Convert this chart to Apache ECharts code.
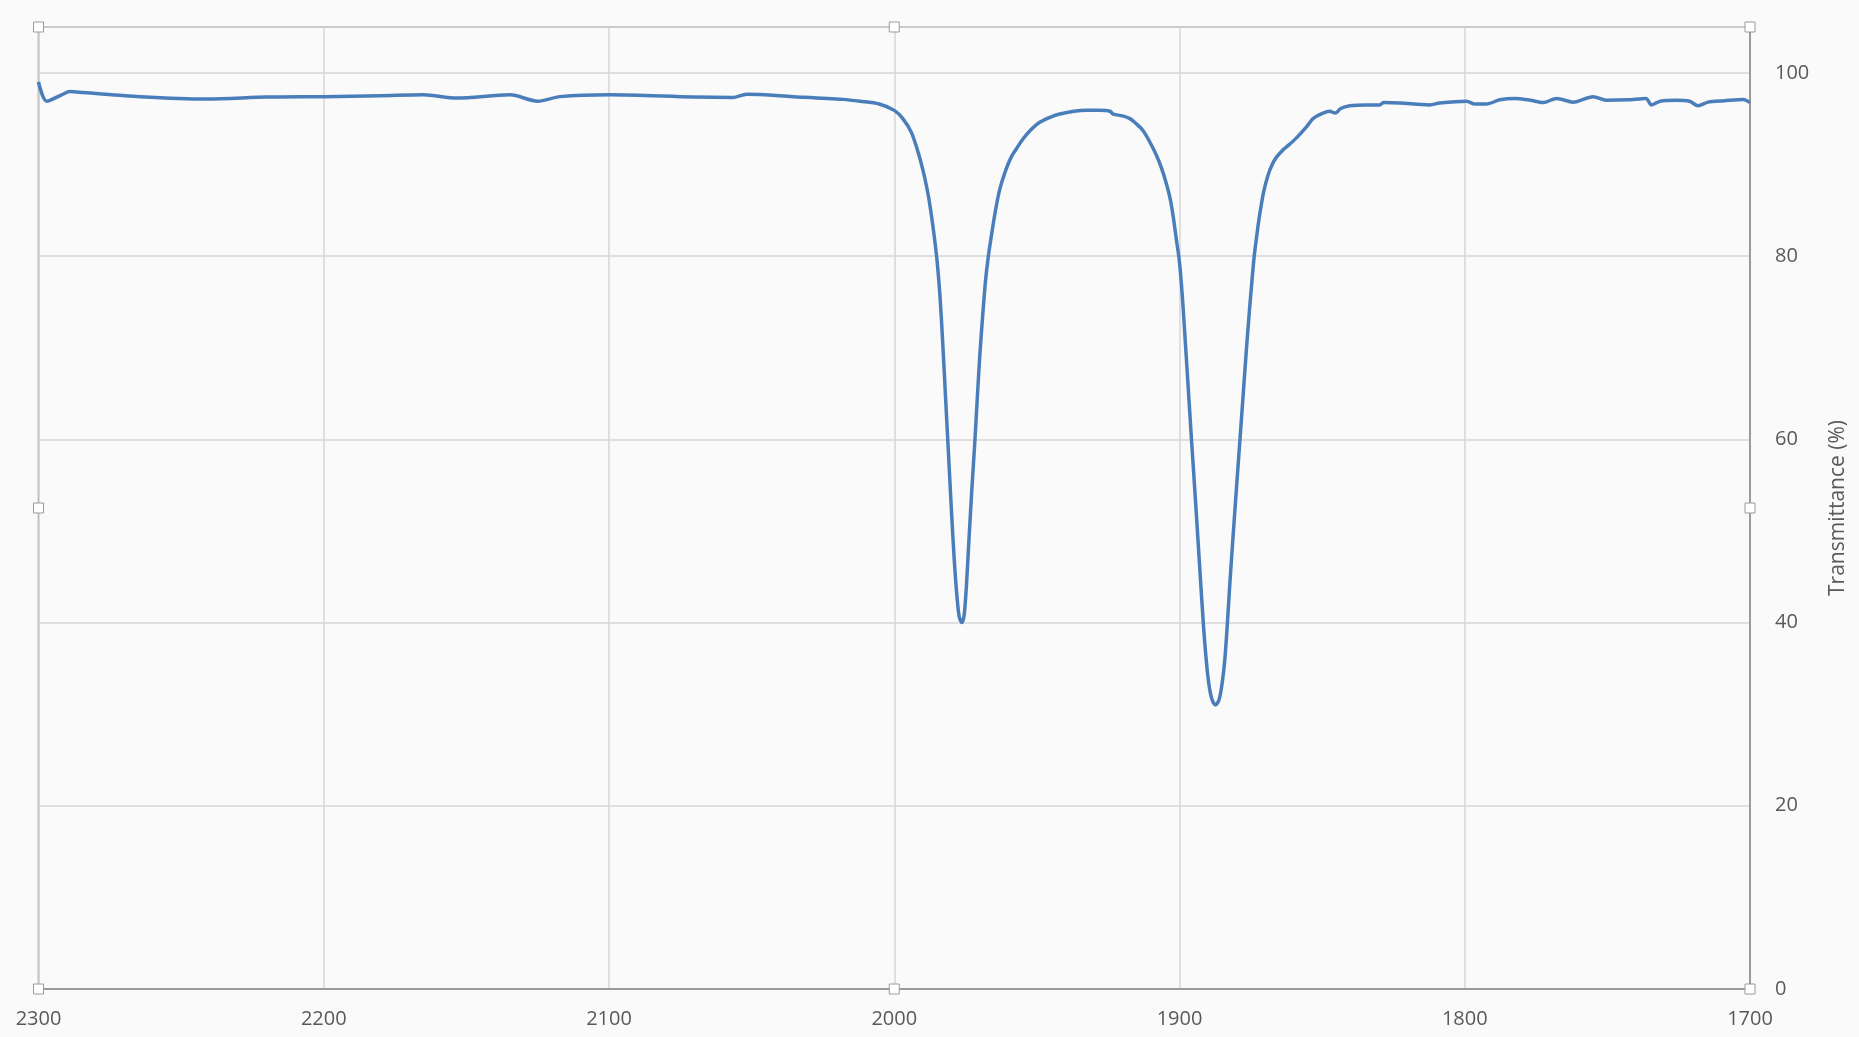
<!DOCTYPE html>
<html>
<head>
<meta charset="utf-8">
<title>IR spectrum 2300–1700 cm⁻¹</title>
<script src="https://cdn.jsdelivr.net/npm/echarts@6/dist/echarts.min.js"></script>
<style>
  html, body { margin: 0; padding: 0; background: #fafafa; }
  #chart { width: 1859px; height: 1037px; }
</style>
</head>
<body>
<div id="chart"></div>
<script>
// Wavenumber (cm⁻¹) and transmittance (%) pairs of the measured spectrum
const wavenumbers = [
  2300, 2297.1, 2291.9, 2289, 2284.3, 2264.4, 2241, 2220, 2200, 2180,
  2165, 2153.4, 2134.7, 2125, 2117.2, 2099.7, 2070.5, 2056.6, 2051.7, 2035.5,
  2018, 2012, 2005.3, 2000, 1997, 1994, 1991.5, 1989.5, 1988, 1987,
  1986, 1985, 1984, 1983, 1982, 1981, 1980, 1979, 1978, 1977.2,
  1976.3, 1975.5, 1974.7, 1973.8, 1972.8, 1971.7, 1970.8, 1970, 1969, 1968,
  1967, 1965.8, 1964.5, 1963, 1961, 1959, 1957, 1954.8, 1952, 1949,
  1945, 1942, 1937, 1932.6, 1928, 1924.4, 1923.2, 1920, 1917.4, 1915,
  1912.8, 1910.5, 1908.1, 1906.3, 1904.6, 1903.3, 1902.2, 1901.1, 1900.1, 1899.4,
  1898.7, 1898.0, 1897.3, 1895.8, 1894.0, 1892.3, 1891.2, 1890, 1888.8, 1887.4,
  1886.1, 1885.0, 1884.1, 1883.2, 1882.3, 1881.2, 1880.0, 1878.8, 1877.6, 1876.5,
  1875.5, 1874.6, 1873.8, 1872.8, 1871.9, 1870.5, 1869, 1867.5, 1866, 1864,
  1862.5, 1859, 1855.5, 1853.2, 1849.7, 1847.3, 1845.4, 1843.5, 1840.3, 1835.0,
  1829.8, 1828.5, 1822.8, 1812.3, 1808.8, 1799.4, 1796.5, 1792.4, 1787.7, 1782.4,
  1777.0, 1772.5, 1767.8, 1762.0, 1755.0, 1750.4, 1743.0, 1736.5, 1734.5, 1731.5,
  1726.0, 1721.2, 1718.2, 1714.7, 1709.0, 1702.3, 1700
];
const transmittance = [
  99.0, 96.9, 97.6, 97.95, 97.85, 97.4, 97.15, 97.35, 97.4, 97.5,
  97.6, 97.25, 97.6, 96.9, 97.4, 97.6, 97.35, 97.3, 97.65, 97.4,
  97.1, 96.9, 96.6, 95.9, 95.0, 93.5, 91.2, 88.8, 86.5, 84.5,
  82.2, 79.5, 75.8, 70.5, 64.5, 58.5, 52.5, 47.0, 42.8, 40.6,
  40.0, 40.8, 44.0, 49.1, 54.5, 60.0, 65.0, 69.2, 73.5, 77.3,
  80.0, 82.5, 85.0, 87.3, 89.3, 90.8, 91.8, 92.8, 93.8, 94.6,
  95.2, 95.5, 95.8, 95.9, 95.9, 95.8, 95.5, 95.3, 95.0, 94.4,
  93.7, 92.5, 91.0, 89.6, 87.9, 86.3, 84.3, 81.8, 79.6, 77.2,
  74.2, 70.8, 67.4, 60.0, 51.4, 43.0, 38.0, 34.0, 31.8, 31.0,
  31.6, 33.5, 36.0, 40.0, 44.5, 49.5, 54.8, 60.0, 65.2, 70.0,
  74.0, 77.3, 80.0, 82.5, 84.5, 87.0, 88.8, 90.0, 90.8, 91.5,
  91.9, 92.9, 94.1, 95.0, 95.6, 95.8, 95.6, 96.1, 96.4, 96.5,
  96.5, 96.75, 96.7, 96.5, 96.7, 96.9, 96.6, 96.6, 97.05, 97.2,
  97.0, 96.75, 97.2, 96.8, 97.4, 97.0, 97.05, 97.2, 96.5, 96.9,
  97.0, 96.9, 96.4, 96.8, 96.95, 97.1, 96.75
];

// Axis ticks
const xTicks = { min: 1700, max: 2300, step: 100 };
const yTicks = { min: 0, max: 105, step: 20 };
const yAxisTitle = 'Transmittance (%)';

const spectrum = wavenumbers.map((w, i) => [w, transmittance[i]]);

const chart = echarts.init(document.getElementById('chart'), null, { renderer: 'canvas' });

const labelFont = { fontFamily: 'Open Sans', fontSize: 20, color: '#595959' };

chart.setOption({
  backgroundColor: '#fafafa',
  animation: false,
  grid: {
    left: 38.5, right: 109, top: 27, bottom: 48,
    show: true,
    borderColor: '#8a8a8a',
    borderWidth: 1.5,
    backgroundColor: 'transparent'
  },
  xAxis: {
    type: 'value',
    inverse: true,
    min: xTicks.min,
    max: xTicks.max,
    interval: xTicks.step,
    axisLine: { show: true, lineStyle: { color: '#8a8a8a', width: 1.5 } },
    axisTick: { show: false },
    axisLabel: { ...labelFont, margin: 20, formatter: v => String(v) },
    splitLine: { show: true, lineStyle: { color: '#d6d6d6', width: 1.5 } }
  },
  yAxis: {
    type: 'value',
    position: 'right',
    min: yTicks.min,
    max: yTicks.max,
    interval: yTicks.step,
    name: yAxisTitle,
    nameLocation: 'middle',
    nameRotate: 90,
    nameGap: 78,
    nameTextStyle: { fontFamily: 'Open Sans', fontSize: 21, color: '#595959' },
    axisLine: { show: true, lineStyle: { color: '#8a8a8a', width: 1.5 } },
    axisTick: { show: false },
    axisLabel: { ...labelFont, margin: 25, showMaxLabel: false, formatter: v => String(v) },
    splitLine: { show: true, lineStyle: { color: '#d6d6d6', width: 1.5 } }
  },
  series: [{
    type: 'line',
    data: spectrum,
    showSymbol: false,
    smooth: 0.3,
    lineStyle: { color: '#4a7ebb', width: 3.5 },
    z: 3
  }]
});

// Selection handles on the plot-area frame (corners and edge midpoints)
const cx = [xTicks.max, (xTicks.max + xTicks.min) / 2, xTicks.min];
const cy = [yTicks.max, (yTicks.max + yTicks.min) / 2, yTicks.min];
const handles = [];
cx.forEach((xv, i) => {
  cy.forEach((yv, j) => {
    if (i === 1 && j === 1) return;
    const p = chart.convertToPixel({ gridIndex: 0 }, [xv, yv]);
    handles.push({
      type: 'rect',
      shape: { x: p[0] - 5, y: p[1] - 5, width: 10, height: 10 },
      style: { fill: '#ffffff', stroke: '#9a9a9a', lineWidth: 1 },
      z: 10
    });
  });
});
chart.setOption({ graphic: handles });
</script>
</body>
</html>
